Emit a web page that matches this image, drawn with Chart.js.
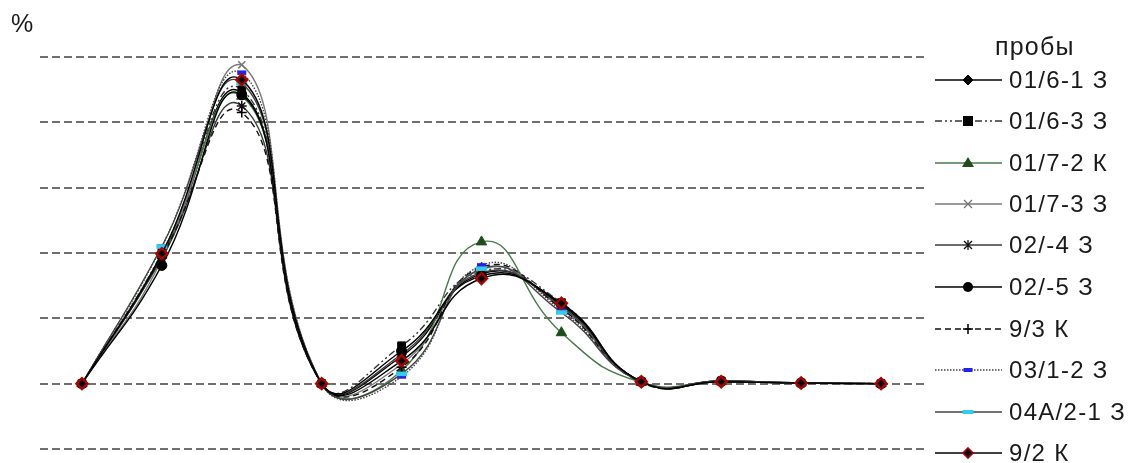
<!DOCTYPE html>
<html>
<head>
<meta charset="utf-8">
<script src="https://cdn.jsdelivr.net/npm/chart.js@4.4.0/dist/chart.umd.min.js"></script>
<style>
  html, body { margin: 0; padding: 0; background: #fff; }
  #wrap { position: relative; width: 1129px; height: 463px; overflow: hidden; font-family: "Liberation Sans", Arial, sans-serif; color: #1a1a1a; }
  #c { position: absolute; left: 0; top: 0; }
  .pct { position: absolute; left: 11px; top: 9px; font-size: 25px; }
  .ltitle { position: absolute; left: 995px; top: 32px; font-size: 25px; letter-spacing: 1.2px; }
  .item { position: absolute; left: 934px; height: 30px; display: flex; align-items: center; }
  .item svg { width: 70px; height: 20px; }
  .item span { margin-left: 5px; font-size: 24px; letter-spacing: 1.3px; white-space: nowrap; }
</style>
</head>
<body>
<div id="wrap">
  <canvas id="c" width="1129" height="463"></canvas>
  <div class="pct">%</div>
  <div class="ltitle">пробы</div>
  <div id="legend"></div>
</div>
<script>
const categories = ["1","2","3","4","5","6","7","8","9","10","11"];
const seriesNames = ["01/6-1 З","01/6-3 З","01/7-2 К","01/7-3 З","02/-4 З","02/-5 З","9/3 К","03/1-2 З","04А/2-1 З","9/2 К"];
const s_01_6_1 = [0, 19.5, 44.5, 0, 4.2, 16.8, 12.0, 0.3, 0.3, 0.1, 0];
const s_01_6_3 = [0, 20.0, 45.0, 0, 5.8, 17.2, 12.4, 0.3, 0.4, 0.1, 0];
const s_01_7_2 = [0, 19.8, 44.0, 0, 2.0, 21.7, 7.8, 0.2, 0.3, 0.1, 0];
const s_01_7_3 = [0, 19.0, 48.8, 0, 3.0, 17.5, 11.6, 0.3, 0.4, 0.1, 0];
const s_02_4 = [0, 19.2, 42.5, 0, 4.5, 17.0, 11.8, 0.3, 0.3, 0.1, 0];
const s_02_5 = [0, 18.1, 44.2, 0, 5.0, 16.5, 12.2, 0.3, 0.4, 0.1, 0];
const s_9_3 = [0, 19.5, 41.5, 0, 2.5, 17.8, 11.5, 0.2, 0.3, 0.1, 0];
const s_03_1_2 = [0, 21.0, 47.6, 0, 1.1, 18.1, 11.2, 0.3, 0.4, 0.1, 0];
const s_04A_2_1 = [0, 21.0, 46.0, 0, 1.5, 17.6, 10.9, 0.3, 0.4, 0.1, 0];
const s_9_2 = [0, 19.9, 46.5, 0, 3.5, 16.1, 12.3, 0.3, 0.3, 0.1, 0];
const yTicks = [-10, 0, 10, 20, 30, 40, 50];

const values = [s_01_6_1, s_01_6_3, s_01_7_2, s_01_7_3, s_02_4, s_02_5, s_9_3, s_03_1_2, s_04A_2_1, s_9_2];

const styles = [
  { line: '#000', dash: [], ps: 'rectRot', r: 4.5, bg: '#000', bc: '#000', bw: 1 },
  { line: '#333', dash: [7,3,2,3,2,3], ps: 'rect', r: 5.5, bg: '#000', bc: '#000', bw: 1 },
  { line: '#4a7a4a', dash: [], ps: 'triangle', r: 6, bg: '#1d4d1d', bc: '#1d4d1d', bw: 1 },
  { line: '#7a7a7a', dash: [], ps: 'crossRot', r: 5, bg: '#777', bc: '#777', bw: 1.5 },
  { line: '#3a3a3a', dash: [], ps: 'star', r: 5, bg: '#111', bc: '#111', bw: 1.5 },
  { line: '#000', dash: [], ps: 'circle', r: 5, bg: '#000', bc: '#000', bw: 1 },
  { line: '#111', dash: [6,4], ps: 'cross', r: 5, bg: '#000', bc: '#000', bw: 1.5 },
  { line: '#444', dash: [1.5,1.5], ps: 'line', r: 4.5, bg: '#2222ee', bc: '#2222ee', bw: 4.5 },
  { line: '#444', dash: [], ps: 'line', r: 5.5, bg: '#33ccf0', bc: '#33ccf0', bw: 4.5 },
  { line: '#000', dash: [], ps: 'rectRot', r: 5.5, bg: '#000', bc: '#b00000', bw: 2.4 }
];

const datasets = values.map((v, i) => ({
  label: seriesNames[i],
  data: v,
  borderColor: styles[i].line,
  borderWidth: 1.4,
  borderDash: styles[i].dash,
  tension: 0.5,
  fill: false,
  pointStyle: styles[i].ps,
  pointRadius: styles[i].r,
  pointBackgroundColor: styles[i].bg,
  pointBorderColor: styles[i].bc,
  pointBorderWidth: styles[i].bw,
  order: 10 - i
}));

const dashedGrid = {
  id: 'dashedGrid',
  beforeDatasetsDraw(chart) {
    const y = chart.scales.y, a = chart.chartArea, ctx = chart.ctx;
    ctx.save();
    ctx.strokeStyle = '#6f6f6f';
    ctx.lineWidth = 2;
    ctx.setLineDash([8, 4]);
    yTicks.forEach(v => {
      const py = Math.round(y.getPixelForValue(v));
      ctx.beginPath();
      ctx.moveTo(a.left - 2, py);
      ctx.lineTo(a.right + 4, py);
      ctx.stroke();
    });
    ctx.restore();
  }
};

new Chart(document.getElementById('c'), {
  type: 'line',
  data: { labels: categories, datasets },
  options: {
    responsive: false,
    animation: false,
    layout: { padding: { left: 42, right: 208, top: 57, bottom: 14 } },
    plugins: { legend: { display: false }, tooltip: { enabled: false } },
    scales: {
      x: { display: false, offset: true },
      y: {
        display: false,
        min: -10, max: 50,
        afterBuildTicks: (s) => { s.ticks = yTicks.map(v => ({ value: v })); }
      }
    }
  },
  plugins: [dashedGrid]
});

// HTML legend
const legend = document.getElementById('legend');
const itemTops = [80, 121, 163, 204, 245, 287, 329, 370, 412, 453];
seriesNames.forEach((name, i) => {
  const st = styles[i];
  const d = document.createElement('div');
  d.className = 'item';
  d.style.top = (itemTops[i] - 15) + 'px';
  const dash = st.dash.length ? `stroke-dasharray="${st.dash.join(',')}"` : '';
  let marker = '';
  const cx = 34, cy = 10;
  switch (st.ps) {
    case 'rectRot': marker = `<polygon points="${cx},${cy-5} ${cx+5},${cy} ${cx},${cy+5} ${cx-5},${cy}" fill="${st.bg}" stroke="${st.bc}" stroke-width="${i===9?1.6:1}"/>`; break;
    case 'rect': marker = `<rect x="${cx-5}" y="${cy-5}" width="10" height="10" fill="${st.bg}"/>`; break;
    case 'triangle': marker = `<polygon points="${cx},${cy-6} ${cx+6},${cy+4} ${cx-6},${cy+4}" fill="${st.bg}"/>`; break;
    case 'crossRot': marker = `<path d="M${cx-4},${cy-4}L${cx+4},${cy+4}M${cx-4},${cy+4}L${cx+4},${cy-4}" stroke="${st.bc}" stroke-width="1.3"/>`; break;
    case 'star': marker = `<path d="M${cx-4},${cy-4}L${cx+4},${cy+4}M${cx-4},${cy+4}L${cx+4},${cy-4}M${cx},${cy-5}L${cx},${cy+5}" stroke="${st.bc}" stroke-width="1.3"/>`; break;
    case 'circle': marker = `<circle cx="${cx}" cy="${cy}" r="5" fill="${st.bg}"/>`; break;
    case 'cross': marker = `<path d="M${cx-5},${cy}L${cx+5},${cy}M${cx},${cy-5}L${cx},${cy+5}" stroke="${st.bc}" stroke-width="1.5"/>`; break;
    case 'line': marker = `<rect x="${cx-st.r}" y="${cy-2}" width="${st.r*2}" height="4" fill="${st.bg}"/>`; break;
  }
  d.innerHTML = `<svg viewBox="0 0 70 20"><line x1="1" y1="10" x2="68" y2="10" stroke="${st.line}" stroke-width="1.6" ${dash}/>${marker}</svg><span>${name}</span>`;
  legend.appendChild(d);
});
</script>
</body>
</html>
